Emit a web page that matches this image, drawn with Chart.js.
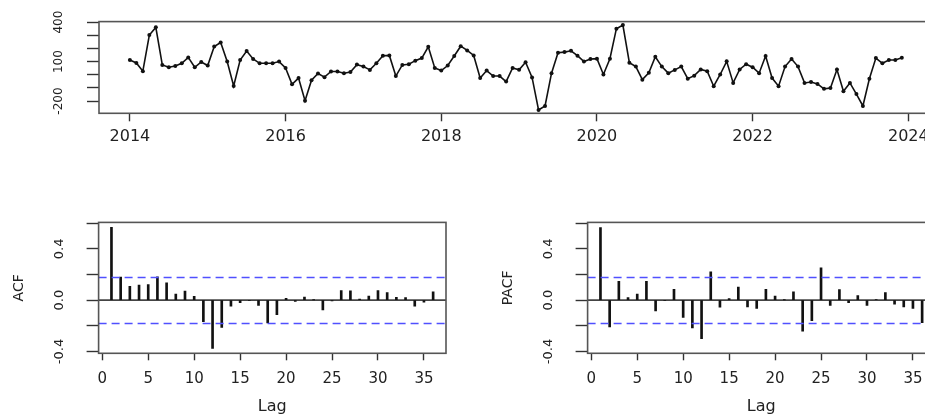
<!DOCTYPE html>
<html>
<head>
<meta charset="utf-8">
<script src="https://cdn.jsdelivr.net/npm/chart.js@4.4.1/dist/chart.umd.min.js"></script>
<style>
  html, body { margin: 0; padding: 0; width: 925px; height: 416px; overflow: hidden; background: #fff; }
  canvas.panel { position: absolute; }
  #ts { left: 0; top: 0; }
  #acf { left: 0; top: 200px; }
  #pacf { left: 489px; top: 200px; }
</style>
</head>
<body>
<canvas id="ts" class="panel" width="960" height="150"></canvas>
<canvas id="acf" class="panel" width="470" height="216"></canvas>
<canvas id="pacf" class="panel" width="470" height="216"></canvas>
<script>
// Monthly series, January 2014 to December 2023
const startYear = 2014;
const seriesValues = [
  112, 90, 27, 302, 360, 75, 57, 67, 87, 132, 57, 97,
  70, 215, 245, 100, -85, 112, 180, 120, 87, 87, 87, 100,
  52, -72, -25, -197, -42, 10, -18, 25, 25, 12, 20, 77,
  62, 37, 87, 145, 147, -10, 75, 80, 107, 127, 212, 52,
  32, 70, 142, 217, 185, 147, -25, 32, -10, -10, -52, 52,
  38, 95, -20, -267, -237, 12, 167, 172, 182, 145, 100, 120,
  122, 2, 122, 350, 378, 92, 62, -37, 15, 137, 62, 12,
  37, 62, -30, -7, 40, 27, -87, 2, 102, -62, 40, 80,
  57, 12, 142, -25, -87, 62, 120, 62, -62, -55, -70, -107,
  -100, 40, -125, -62, -147, -237, -30, 127, 87, 112, 112, 130
];
const yearTicks = [2014, 2016, 2018, 2020, 2022, 2024];
const valueTicks = [-200, -100, 0, 100, 200, 300, 400];
const valueTickLabels = [-200, 100, 400];

// Sample autocorrelations for lags 1..36
const lags = [1, 2, 3, 4, 5, 6, 7, 8, 9, 10, 11, 12, 13, 14, 15, 16, 17, 18,
  19, 20, 21, 22, 23, 24, 25, 26, 27, 28, 29, 30, 31, 32, 33, 34, 35, 36];
const acfValues = [0.568, 0.179, 0.107, 0.117, 0.122, 0.182, 0.135, 0.047, 0.070, 0.030,
  -0.167, -0.376, -0.212, -0.047, -0.020, -0.004, -0.040, -0.178, -0.112, 0.015,
  -0.010, 0.025, 0.002, -0.075, -0.005, 0.075, 0.072, 0.008, 0.032, 0.075,
  0.060, 0.022, 0.020, -0.047, -0.015, 0.065];
const pacfValues = [0.566, -0.209, 0.147, 0.020, 0.047, 0.147, -0.084, -0.004, 0.084, -0.134,
  -0.216, -0.300, 0.221, -0.055, 0.012, 0.102, -0.052, -0.065, 0.084, 0.032,
  0.002, 0.065, -0.241, -0.159, 0.251, -0.040, 0.082, -0.020, 0.035, -0.040,
  0.003, 0.060, -0.032, -0.052, -0.065, -0.176];
const lagTicks = [0, 5, 10, 15, 20, 25, 30, 35];
const corrTicks = [-0.4, -0.2, 0, 0.2, 0.4, 0.6];
const corrTickLabels = [-0.4, 0, 0.4];

const FONT = 'DejaVu Sans';
const INK = '#111';
const TEXT = '#222';
const FRAME = '#555';
const BOUND = '#5050ff';

// 4% axis expansion on each side
const expand = (lo, hi) => { const p = (hi - lo) * 0.04; return [lo - p, hi + p]; };

const n = seriesValues.length;
const ciBound = 1.96 / Math.sqrt(n);

// Plot frame, zero line and significance bounds
const framePlugin = {
  id: 'frame',
  beforeDatasetsDraw(chart, args, opts) {
    if (!opts.corr) return;
    const { ctx, chartArea: a, scales: { y } } = chart;
    ctx.save();
    ctx.strokeStyle = '#444';
    ctx.lineWidth = 1.8;
    const y0 = y.getPixelForValue(0);
    ctx.beginPath(); ctx.moveTo(a.left, y0); ctx.lineTo(a.right, y0); ctx.stroke();
    ctx.restore();
  },
  afterDatasetsDraw(chart, args, opts) {
    if (!opts.corr) return;
    const { ctx, chartArea: a, scales: { y } } = chart;
    ctx.save();
    ctx.strokeStyle = BOUND;
    ctx.lineWidth = 1.4;
    ctx.setLineDash([8, 5]);
    [ciBound, -ciBound].forEach(b => {
      const py = Math.round(y.getPixelForValue(b)) + 0.5;
      ctx.beginPath(); ctx.moveTo(a.left, py); ctx.lineTo(a.right, py); ctx.stroke();
    });
    ctx.restore();
  },
  afterDraw(chart) {
    const { ctx, chartArea: a } = chart;
    ctx.save();
    ctx.strokeStyle = FRAME;
    ctx.lineWidth = 1.6;
    ctx.strokeRect(a.left, a.top, a.right - a.left, a.bottom - a.top);
    ctx.restore();
  }
};

const fixedTicks = list => scale => { scale.ticks = list.map(v => ({ value: v })); };

// Time series panel
const tSpan = (n - 1) / 12;
const [xMin, xMax] = expand(startYear, startYear + tSpan);
const [vMin, vMax] = expand(Math.min(...seriesValues), Math.max(...seriesValues));

new Chart(document.getElementById('ts'), {
  type: 'line',
  data: {
    datasets: [{
      data: seriesValues.map((v, i) => ({ x: startYear + i / 12, y: v })),
      borderColor: INK,
      borderWidth: 1.6,
      pointRadius: 2,
      pointBackgroundColor: INK,
      pointBorderWidth: 0,
      tension: 0
    }]
  },
  options: {
    responsive: false,
    animation: false,
    devicePixelRatio: 1,
    layout: { padding: { top: 21, right: 27.3, left: 0, bottom: 0 } },
    plugins: { legend: { display: false }, tooltip: { enabled: false }, frame: { corr: false } },
    scales: {
      x: {
        type: 'linear', min: xMin, max: xMax, offset: false,
        afterBuildTicks: fixedTicks(yearTicks),
        afterFit: s => { s.height = 36.7; },
        border: { display: false },
        grid: { drawOnChartArea: false, tickLength: 8, tickColor: '#333', tickWidth: 1.4 },
        ticks: { font: { family: FONT, size: 16 }, color: TEXT, padding: 6.4, maxRotation: 0, autoSkip: false,
          callback: v => String(v) }
      },
      y: {
        type: 'linear', min: vMin, max: vMax,
        afterBuildTicks: fixedTicks(valueTicks),
        afterFit: s => { s.width = 99; },
        border: { display: false },
        grid: { drawOnChartArea: false, tickLength: 12, tickColor: '#333', tickWidth: 1.4 },
        ticks: { font: { family: FONT, size: 12 }, color: TEXT, padding: 14.4, minRotation: 90, maxRotation: 90,
          crossAlign: 'center', autoSkip: false,
          callback: v => valueTickLabels.includes(v) ? String(v) : '' }
      }
    }
  },
  plugins: [framePlugin]
});

// Correlogram panels
const [lagMin, lagMax] = expand(lags[0], lags[lags.length - 1]);
const bound3 = 3 / Math.sqrt(n);
const [cMin, cMax] = expand(
  Math.min(-bound3, ...acfValues, ...pacfValues),
  Math.max(bound3, ...acfValues, ...pacfValues));

function correlogram(id, values, label) {
  return new Chart(document.getElementById(id), {
    type: 'bar',
    data: {
      datasets: [{
        data: lags.map((k, i) => ({ x: k, y: values[i] })),
        backgroundColor: INK,
        borderWidth: 0,
        barThickness: 2
      }]
    },
    options: {
      responsive: false,
      animation: false,
      devicePixelRatio: 1,
      layout: { padding: { top: 18.3, right: 24, left: 0, bottom: 0 } },
      plugins: { legend: { display: false }, tooltip: { enabled: false }, frame: { corr: true } },
      scales: {
        x: {
          type: 'linear', min: lagMin, max: lagMax, offset: false,
          afterBuildTicks: fixedTicks(lagTicks),
          afterFit: s => { s.height = 62.7; },
          border: { display: false },
          grid: { offset: false, drawOnChartArea: false, tickLength: 7, tickColor: '#333', tickWidth: 1.4 },
          ticks: { font: { family: FONT, size: 15 }, color: TEXT, padding: 9.7, maxRotation: 0, autoSkip: false,
            callback: v => String(v) },
          title: { display: true, text: 'Lag', font: { family: FONT, size: 16 }, color: TEXT, padding: { top: 0, bottom: 0 } }
        },
        y: {
          type: 'linear', min: cMin, max: cMax,
          afterBuildTicks: fixedTicks(corrTicks),
          afterFit: s => { s.width = 98.6; },
          border: { display: false },
          grid: { drawOnChartArea: false, tickLength: 12, tickColor: '#333', tickWidth: 1.4 },
          ticks: { font: { family: FONT, size: 13 }, color: TEXT, padding: 14.6, minRotation: 90, maxRotation: 90,
            crossAlign: 'center', autoSkip: false,
            callback: v => corrTickLabels.includes(v) ? v.toFixed(1) : '' },
          title: { display: true, text: label, font: { family: FONT, size: 14 }, color: TEXT, padding: { top: 10.6, bottom: 0 } }
        }
      }
    },
    plugins: [framePlugin]
  });
}

correlogram('acf', acfValues, 'ACF');
correlogram('pacf', pacfValues, 'PACF');
</script>
</body>
</html>
